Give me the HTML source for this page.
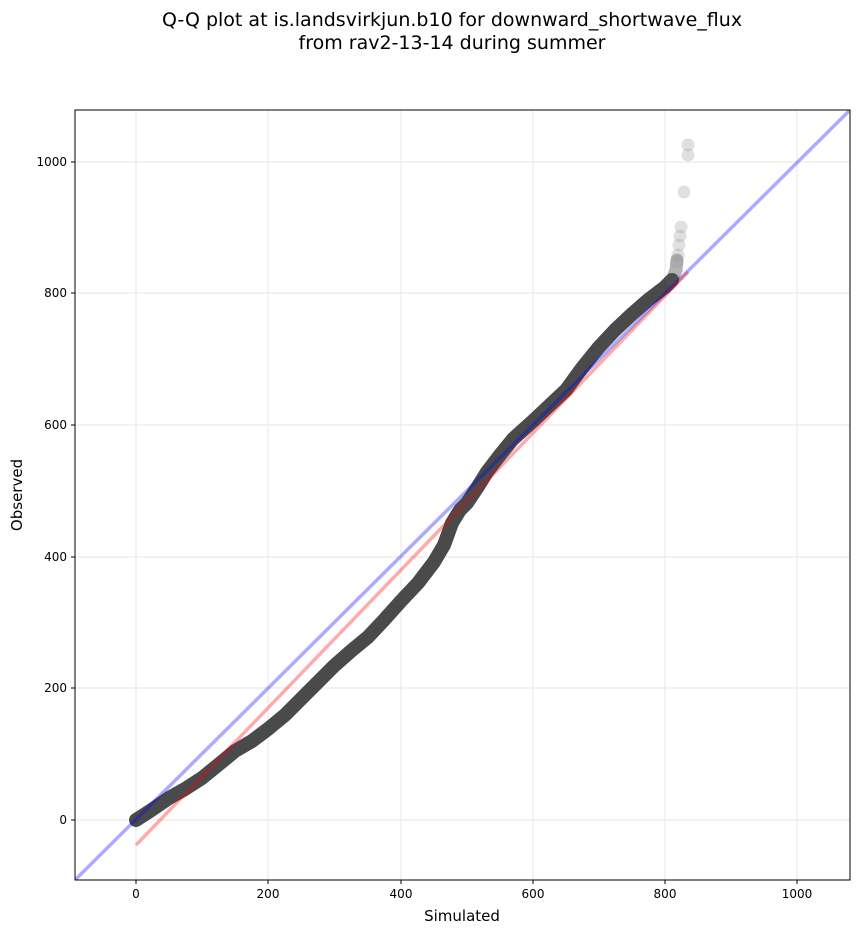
<!DOCTYPE html>
<html><head><meta charset="utf-8"><style>
body{margin:0;background:#fff;}
svg{display:block;font-family:"DejaVu Sans","Liberation Sans",sans-serif;}
</style></head><body>
<svg width="860" height="934" viewBox="0 0 860 934">
<rect width="860" height="934" fill="#fff"/>
<text x="452" y="26" font-size="19" text-anchor="middle">Q-Q plot at is.landsvirkjun.b10 for downward_shortwave_flux</text>
<text x="452" y="49" font-size="19" text-anchor="middle">from rav2-13-14 during summer</text>
<g stroke="#ebebeb" stroke-width="1.2">
<line x1="136" y1="110" x2="136" y2="880"/><line x1="268" y1="110" x2="268" y2="880"/>
<line x1="401" y1="110" x2="401" y2="880"/><line x1="533" y1="110" x2="533" y2="880"/>
<line x1="665" y1="110" x2="665" y2="880"/><line x1="797" y1="110" x2="797" y2="880"/>
<line x1="75" y1="820" x2="850" y2="820"/><line x1="75" y1="688" x2="850" y2="688"/>
<line x1="75" y1="557" x2="850" y2="557"/><line x1="75" y1="425" x2="850" y2="425"/>
<line x1="75" y1="293" x2="850" y2="293"/><line x1="75" y1="162" x2="850" y2="162"/>
</g>
<defs><clipPath id="c"><rect x="75" y="110" width="775" height="770"/></clipPath></defs>
<g clip-path="url(#c)">
<polyline fill="none" stroke="#2a2a2a" stroke-opacity="0.85" stroke-width="14" stroke-linecap="round" stroke-linejoin="round"
points="136,820 150,811 169,798 185,789 202,778 218,765 235,751 252,741 268,729 285,715 301,699 318,682 334,666 351,651 368,637 384,620 401,601 418,583 434,562 444,545 452,523 460,510 467,503 477,488 487,472 500,455 513,439 523,430 533,421 550,405 566,390 582,368 599,347 615,330 632,314 648,300 665,287 672,280"/>
<polyline fill="none" stroke="#555" stroke-opacity="0.45" stroke-width="13" stroke-linecap="round" points="672,280 676,270 677,260"/>
<g fill="#999" fill-opacity="0.3">
<circle cx="688" cy="145" r="6.5"/><circle cx="688" cy="155" r="6.5"/><circle cx="684" cy="192" r="6.5"/>
<circle cx="681" cy="227" r="6.5"/><circle cx="680" cy="236" r="6.5"/><circle cx="679" cy="245" r="6.5"/>
<circle cx="678" cy="255" r="6.5"/><circle cx="677" cy="262" r="6.5"/>
</g>
<line x1="75" y1="880" x2="850" y2="110" stroke="#0000ff" stroke-opacity="0.33" stroke-width="3.5"/>
<line x1="136" y1="845" x2="688" y2="272" stroke="#ff0000" stroke-opacity="0.33" stroke-width="3.5"/>
</g>
<rect x="75" y="110" width="775" height="770" fill="none" stroke="#000" stroke-width="1"/>
<g stroke="#000"><line x1="136" y1="880" x2="136" y2="884"/><line x1="268" y1="880" x2="268" y2="884"/><line x1="401" y1="880" x2="401" y2="884"/><line x1="533" y1="880" x2="533" y2="884"/><line x1="665" y1="880" x2="665" y2="884"/><line x1="797" y1="880" x2="797" y2="884"/>
<line x1="71" y1="820" x2="75" y2="820"/><line x1="71" y1="688" x2="75" y2="688"/><line x1="71" y1="557" x2="75" y2="557"/><line x1="71" y1="425" x2="75" y2="425"/><line x1="71" y1="293" x2="75" y2="293"/><line x1="71" y1="162" x2="75" y2="162"/></g>
<g font-size="12" text-anchor="middle"><text x="136" y="898">0</text><text x="268" y="898">200</text><text x="401" y="898">400</text><text x="533" y="898">600</text><text x="665" y="898">800</text><text x="797" y="898">1000</text></g>
<g font-size="12" text-anchor="end"><text x="67" y="824">0</text><text x="67" y="692">200</text><text x="67" y="561">400</text><text x="67" y="429">600</text><text x="67" y="297">800</text><text x="67" y="166">1000</text></g>
<text x="462" y="921" font-size="15" text-anchor="middle">Simulated</text>
<text x="22" y="495" font-size="15" text-anchor="middle" transform="rotate(-90 22 495)">Observed</text>
</svg>
</body></html>
